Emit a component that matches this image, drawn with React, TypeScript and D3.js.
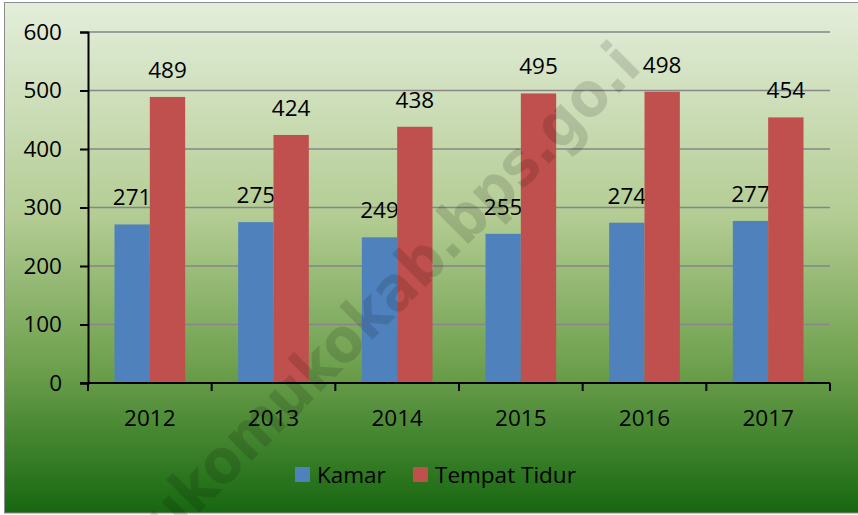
import React, { useEffect, useRef } from 'react';
import * as d3 from 'd3';

const years = ['2012', '2013', '2014', '2015', '2016', '2017'];
const kamar = [271, 275, 249, 255, 274, 277];
const tempatTidur = [489, 424, 438, 495, 498, 454];
const yTicks = [0, 100, 200, 300, 400, 500, 600];
const seriesNames = ['Kamar', 'Tempat Tidur'];
const seriesColors = ['#4f81bd', '#c0504d'];
const watermark = 'mukomukokab.bps.go.i';

const W = 858;
const H = 515;
const FONT = '"Open Sans", "DejaVu Sans", sans-serif';
const FS = 22.5;

export default function App() {
  const ref = useRef<SVGSVGElement | null>(null);

  useEffect(() => {
    document.body.style.margin = '0';
    const svg = d3.select(ref.current);
    svg.selectAll('*').remove();

    // margin convention
    const margin = { top: 32, left: 88, right: 28, bottom: 132 };
    const width = W - margin.left - margin.right;
    const height = H - margin.top - margin.bottom;

    const defs = svg.append('defs');
    const grad = defs
      .append('linearGradient')
      .attr('id', 'bg')
      .attr('x1', 0)
      .attr('y1', 0)
      .attr('x2', 0)
      .attr('y2', 1);
    grad.append('stop').attr('offset', '0').attr('stop-color', '#e4eedb');
    grad.append('stop').attr('offset', '0.42').attr('stop-color', '#b3cc93');
    grad.append('stop').attr('offset', '0.72').attr('stop-color', '#6c9f4c');
    grad.append('stop').attr('offset', '1').attr('stop-color', '#176710');

    svg.append('rect').attr('width', W).attr('height', H).attr('fill', '#ffffff');
    svg
      .append('rect')
      .attr('x', 4.5)
      .attr('y', 2.5)
      .attr('width', 870)
      .attr('height', 510.5)
      .attr('fill', 'url(#bg)')
      .attr('stroke', '#8c8c8c')
      .attr('stroke-width', 1);

    const g = svg.append('g').attr('transform', `translate(${margin.left},${margin.top})`);

    const x0 = d3.scaleBand().domain(years).range([0, width]);
    // gap width 150% of a bar
    const x1 = d3
      .scaleBand()
      .domain(seriesNames)
      .range([0, x0.bandwidth()])
      .paddingInner(0)
      .paddingOuter(0.75);
    const y = d3.scaleLinear().domain([0, 600]).range([height, 0]);

    // gridlines
    g.selectAll('line.grid')
      .data(yTicks.filter(t => t > 0))
      .enter()
      .append('line')
      .attr('class', 'grid')
      .attr('x1', 0)
      .attr('x2', width)
      .attr('y1', d => y(d))
      .attr('y2', d => y(d))
      .attr('stroke', '#868686')
      .attr('stroke-width', 1.5);

    // bars + labels
    const series = [kamar, tempatTidur];
    series.forEach((vals, si) => {
      const grp = g.append('g');
      const bx = (i: number) => (x0(years[i]) as number) + (x1(seriesNames[si]) as number);
      grp
        .selectAll('rect')
        .data(vals)
        .enter()
        .append('rect')
        .attr('x', (d, i) => bx(i))
        .attr('y', d => y(d))
        .attr('width', x1.bandwidth())
        .attr('height', d => height - y(d))
        .attr('fill', seriesColors[si]);

      grp
        .selectAll('text')
        .data(vals)
        .enter()
        .append('text')
        .attr('x', (d, i) => bx(i) + x1.bandwidth() / 2)
        .attr('y', d => y(d) - 19)
        .attr('text-anchor', 'middle')
        .attr('font-family', FONT)
        .attr('font-size', FS)
        .attr('fill', '#000')
        .text(d => d);
    });

    // y axis
    const yAxis = d3.axisLeft(y).tickValues(yTicks).tickSize(8).tickPadding(18);
    const yAxisDraw = g.append('g').call(yAxis);
    yAxisDraw.select('.domain').attr('stroke', '#000').attr('stroke-width', 2);
    yAxisDraw.selectAll('.tick line').attr('stroke', '#000').attr('stroke-width', 2);
    yAxisDraw
      .selectAll('text')
      .attr('font-family', FONT)
      .attr('font-size', FS)
      .attr('fill', '#000');

    // x axis
    const xAxis = d3.axisBottom(x0).tickSize(0).tickPadding(27);
    const xAxisDraw = g.append('g').attr('transform', `translate(0,${height})`).call(xAxis);
    xAxisDraw.select('.domain').remove();
    xAxisDraw
      .selectAll('text')
      .attr('font-family', FONT)
      .attr('font-size', FS)
      .attr('fill', '#000');
    g.append('line')
      .attr('x1', -8)
      .attr('x2', width)
      .attr('y1', height)
      .attr('y2', height)
      .attr('stroke', '#000')
      .attr('stroke-width', 2);
    const boundaries = years.map(yr => x0(yr) as number).concat([width]);
    g.selectAll('line.xtick')
      .data(boundaries)
      .enter()
      .append('line')
      .attr('class', 'xtick')
      .attr('x1', d => d)
      .attr('x2', d => d)
      .attr('y1', height)
      .attr('y2', height + 8)
      .attr('stroke', '#000')
      .attr('stroke-width', 2);

    // legend
    const legend = svg.append('g').attr('transform', 'translate(295,467)');
    const legendX = [0, 118];
    seriesNames.forEach((name, i) => {
      const item = legend.append('g').attr('transform', `translate(${legendX[i]},0)`);
      item.append('rect').attr('width', 15).attr('height', 15).attr('fill', seriesColors[i]);
      item
        .append('text')
        .attr('x', 22)
        .attr('y', 16)
        .attr('font-family', FONT)
        .attr('font-size', FS)
        .attr('fill', '#000')
        .text(name);
    });

    // watermark
    svg
      .append('text')
      .attr('transform', 'translate(370,312) rotate(-45)')
      .attr('text-anchor', 'middle')
      .attr('dominant-baseline', 'central')
      .attr('font-family', '"DejaVu Sans", sans-serif')
      .attr('font-weight', 'bold')
      .attr('font-size', 62)
      .attr('textLength', 730)
      .attr('lengthAdjust', 'spacingAndGlyphs')
      .attr('fill', '#000')
      .attr('fill-opacity', 0.13)
      .text(watermark);
  }, []);

  return <svg ref={ref} width={W} height={H} style={{ display: 'block' }} />;
}
